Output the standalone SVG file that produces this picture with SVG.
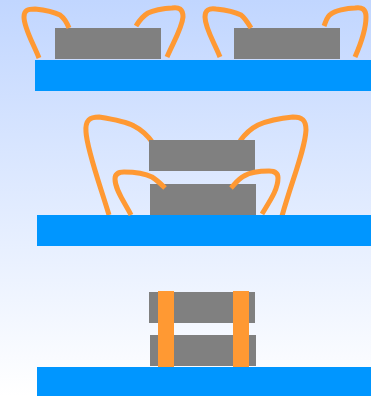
<svg xmlns="http://www.w3.org/2000/svg" width="371" height="396" viewBox="0 0 371 396">
<defs><linearGradient id="bg" x1="0" y1="0" x2="0" y2="1"><stop offset="0" stop-color="#c1d6ff"/><stop offset="1" stop-color="#ffffff"/></linearGradient></defs>
<style>
.board{fill:#0096ff}
.chip{fill:#808080}
.wire{fill:none;stroke:#ff9933;stroke-width:5}
.pillar{fill:#ff9933}
</style>
<rect width="371" height="396" fill="url(#bg)"/>
<g id="connectors-under">
<path class="wire" d="M109,215 C100,185 87,150 86,132 C85,120 90,117 99,117 C112,119 127,122 134,126 C142,130 148,136 153,143"/>
<path class="wire" d="M282,216 C292,180 305,150 306,130 C306,120 302,117 293,117 C282,118 267,121 258,125 C250,129 245,134 240,141"/>
</g>
<g id="board-1"><rect class="board" x="35" y="60" width="336" height="31"/></g>
<g id="chip-1"><rect class="chip" x="55" y="28" width="106" height="31"/></g>
<g id="chip-2"><rect class="chip" x="234" y="28" width="106" height="31"/></g>
<g id="board-2"><rect class="board" x="37" y="215" width="334" height="31"/></g>
<g id="chip-3"><rect class="chip" x="149" y="140" width="106" height="31"/></g>
<g id="chip-4"><rect class="chip" x="150" y="184" width="106" height="31"/></g>
<g id="board-3"><rect class="board" x="37" y="367" width="334" height="29"/></g>
<g id="chip-5"><rect class="chip" x="149" y="292" width="106" height="31"/></g>
<g id="chip-6"><rect class="chip" x="150" y="335" width="106" height="31"/></g>
<g id="pillar-1"><rect class="pillar" x="158" y="291" width="16" height="76"/></g>
<g id="pillar-2"><rect class="pillar" x="233" y="291" width="16" height="76"/></g>
<g id="connectors">
<path class="wire" d="M39,58 C33,43 24,28 24,17 C24,10 28,9 35,9 C44,10 54,12 60,15 C64,18 67,23 69,28"/>
<path class="wire" d="M167,57 C174,41 182,28 183,17 C183,9 179,7 172,8 C163,8 152,11 148,13 C143,16 139,21 136,26"/>
<path class="wire" d="M220,57 C214,42 205,28 205,17 C205,10 209,8 216,9 C225,10 235,12 241,15 C245,18 248,23 251,28"/>
<path class="wire" d="M355,57 C362,41 366,28 366,17 C366,9 362,7 355,8 C346,8 335,11 331,14 C327,16 326,21 324,26"/>
<path class="wire" d="M131,215 C125,203 115,190 115,179 C115,174 118,172 124,172 C134,172 146,174 152,177 C157,180 161,184 165,188"/>
<path class="wire" d="M262,214 C269,202 278,190 278,178 C278,173 275,171 269,171 C259,171 249,173 244,176 C238,179 235,184 231,188"/>
</g>
</svg>
